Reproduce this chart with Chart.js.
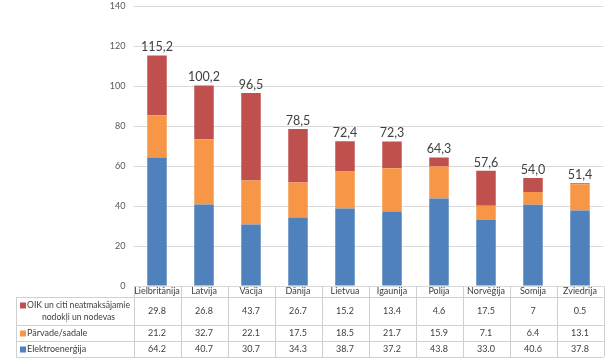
<!DOCTYPE html>
<html>
<head>
<meta charset="utf-8">
<script src="https://cdn.jsdelivr.net/npm/chart.js@4"></script>
<style>
html,body{margin:0;padding:0;background:#fff;}
#wrap{width:605px;height:358px;position:relative;}
</style>
</head>
<body>
<div id="wrap"><canvas id="c" width="605" height="358"></canvas></div>
<script>
const categories = ["Lielbritānija","Latvija","Vācija","Dānija","Lietvua","Igaunija","Polija","Norvēģija","Somija","Zviedrija"];
const seriesNames = ["Elektroenerģija","Pārvade/sadale","OIK un citi neatmaksājamie nodokļi un nodevas"];
const elektro = ["64.2","40.7","30.7","34.3","38.7","37.2","43.8","33.0","40.6","37.8"];
const parvade = ["21.2","32.7","22.1","17.5","18.5","21.7","15.9","7.1","6.4","13.1"];
const oik = ["29.8","26.8","43.7","26.7","15.2","13.4","4.6","17.5","7","0.5"];
const yTicks = [0,20,40,60,80,100,120,140];
const colors = ["#4F81BD","#F79646","#C0504D"];

const FONT = "Lato, 'Open Sans', sans-serif";
const num = a => a.map(v => parseFloat(v));

const tablePlugin = {
  id: 'dataTable',
  afterDraw(chart) {
    const ctx = chart.ctx;
    const x = chart.scales.x;
    const area = chart.chartArea;
    const n = categories.length;
    const w = (area.right - area.left) / n;
    const top = area.bottom;
    const rowY = [top, 297, 325, 341, 357];
    const legendLeft = 16;
    ctx.save();
    const sets = [num(elektro), num(parvade), num(oik)];
    const y = chart.scales.y;
    ctx.fillStyle = '#404040';
    ctx.font = "12.5px " + FONT;
    ctx.textAlign = 'center';
    ctx.textBaseline = 'bottom';
    for (let i = 0; i < n; i++) {
      const total = sets[0][i] + sets[1][i] + sets[2][i];
      ctx.fillText(total.toFixed(1).replace('.', ','), x.getPixelForValue(i), y.getPixelForValue(total) - 2);
    }
    ctx.strokeStyle = '#D0D0D0';
    ctx.lineWidth = 1;
    ctx.beginPath();
    for (let i = 0; i <= n; i++) {
      const xx = Math.round(area.left + i * w) + 0.5;
      ctx.moveTo(xx, top);
      ctx.lineTo(xx, rowY[4]);
    }
    ctx.moveTo(legendLeft + 0.5, rowY[1]);
    ctx.lineTo(legendLeft + 0.5, rowY[4]);
    for (let r = 1; r <= 4; r++) {
      ctx.moveTo(legendLeft, rowY[r] + 0.5);
      ctx.lineTo(area.right, rowY[r] + 0.5);
    }
    ctx.stroke();
    ctx.fillStyle = '#404040';
    ctx.font = "9px " + FONT;
    ctx.textBaseline = 'middle';
    ctx.textAlign = 'center';
    for (let i = 0; i < n; i++) {
      ctx.fillText(categories[i], x.getPixelForValue(i), 291);
    }
    const rows = [
      {vals: oik, y: 311.5},
      {vals: parvade, y: 333.5},
      {vals: elektro, y: 349.5}
    ];
    rows.forEach(r => {
      for (let i = 0; i < n; i++) {
        ctx.fillText(r.vals[i], x.getPixelForValue(i), r.y);
      }
    });
    ctx.textAlign = 'left';
    ctx.fillStyle = colors[2];
    ctx.fillRect(20, 302.5, 6, 6);
    ctx.fillStyle = '#404040';
    ctx.font = "8.6px " + FONT;
    ctx.fillText("OIK un citi neatmaksājamie", 27, 305.5);
    const w1 = ctx.measureText("OIK un citi neatmaksājamie").width;
    ctx.textAlign = 'center';
    ctx.fillText("nodokļi un nodevas", 27 + w1 / 2, 317.5);
    ctx.font = "9px " + FONT;
    ctx.textAlign = 'left';
    ctx.fillStyle = colors[1];
    ctx.fillRect(20, 330.5, 6, 6);
    ctx.fillStyle = '#404040';
    ctx.fillText("Pārvade/sadale", 27, 333.5);
    ctx.fillStyle = colors[0];
    ctx.fillRect(20, 346.5, 6, 6);
    ctx.fillStyle = '#404040';
    ctx.fillText("Elektroenerģija", 27, 349.5);
    ctx.restore();
  }
};

new Chart(document.getElementById('c'), {
  type: 'bar',
  data: {
    labels: categories,
    datasets: [
      {label: seriesNames[0], data: num(elektro), backgroundColor: colors[0]},
      {label: seriesNames[1], data: num(parvade), backgroundColor: colors[1]},
      {label: seriesNames[2], data: num(oik), backgroundColor: colors[2]}
    ]
  },
  options: {
    responsive: false,
    animation: false,
    devicePixelRatio: 1,
    layout: {padding: {top: 6, right: 1.5, bottom: 72, left: 0}},
    datasets: {bar: {barPercentage: 0.415, categoryPercentage: 1}},
    plugins: {legend: {display: false}, tooltip: {enabled: false}, title: {display: false}},
    scales: {
      x: {
        stacked: true,
        display: false
      },
      y: {
        stacked: true,
        min: 0, max: 140,
        afterBuildTicks: s => { s.ticks = yTicks.map(v => ({value: v})); },
        afterFit: s => { s.width = 133.5; },
        ticks: {padding: 0, color: '#595959', font: {family: FONT, size: 9}},
        grid: {color: '#D9D9D9', drawTicks: true, tickLength: 8, tickColor: 'rgba(0,0,0,0)'},
        border: {display: false}
      }
    }
  },
  plugins: [tablePlugin]
});
</script>
</body>
</html>
